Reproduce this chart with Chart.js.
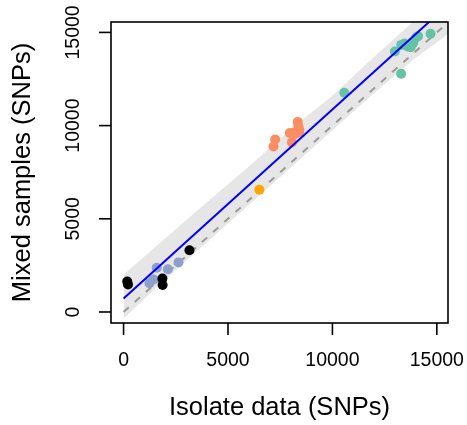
<!DOCTYPE html>
<html>
<head>
<meta charset="utf-8">
<script src="https://cdn.jsdelivr.net/npm/chart.js@4/dist/chart.umd.min.js"></script>
<style>
  html, body { margin: 0; padding: 0; background: #ffffff; }
  #wrap { width: 467px; height: 425px; }
</style>
</head>
<body>
<div id="wrap"><canvas id="c" width="467" height="425"></canvas></div>
<script>
// ---- data ----
const blackX = [175, 210, 1860, 1870, 3155];
const blackY = [1640, 1480, 1790, 1450, 3315];

const slateX = [1240, 1430, 1590, 2120, 2630];
const slateY = [1540, 1740, 2370, 2290, 2660];

const orangeX = [6503];
const orangeY = [6559];

const salmonX = [7180, 7260, 7960, 8060, 8130, 8230, 8340, 8370, 8420, 8400];
const salmonY = [8880, 9250, 9600, 9100, 9600, 9560, 10200, 9980, 9760, 9650];

const greenX = [10570, 12990, 13290, 13300, 13450, 13600, 13700, 13750, 13870, 14010, 14100, 14700];
const greenY = [11760, 13980, 12780, 14330, 14400, 14250, 14350, 14200, 14440, 14730, 14800, 14930];

// fitted regression line (blue) and identity line (grey dashed)
const fitX = [0, 15535];
const fitY = [720, 16480];
const idX = [0, 15535];
const idY = [0, 15535];

// grey uncertainty band around the fit
const bandX    = [0,    2000, 4000, 6000, 8000, 10000, 12000, 14000, 15535];
const bandHigh = [2000, 3950, 5900, 7800, 9800, 11600, 13700, 15700, 17400];
const bandLow  = [-350, 1750, 3750, 5750, 7750, 9750,  11750, 13650, 14900];

const xTicks = [0, 5000, 10000, 15000];
const yTicks = [0, 5000, 10000, 15000];
const xTitle = "Isolate data (SNPs)";
const yTitle = "Mixed samples (SNPs)";

// ---- helpers ----
const pts = (xs, ys) => xs.map((x, i) => ({ x: x, y: ys[i] }));
const FONT = "'Liberation Sans', Arial, Helvetica, sans-serif";

const pointSet = (xs, ys, color) => ({
  type: 'scatter',
  data: pts(xs, ys),
  backgroundColor: color,
  borderColor: color,
  borderWidth: 0,
  pointRadius: 5,
  pointHoverRadius: 5,
  order: 1
});

const frame = {
  id: 'frame',
  afterDraw(chart) {
    const ctx = chart.ctx;
    const a = chart.chartArea;
    const xs = chart.scales.x, ys = chart.scales.y;
    ctx.save();
    ctx.strokeStyle = '#000';
    ctx.lineWidth = 1.6;
    ctx.strokeRect(a.left, a.top, a.right - a.left, a.bottom - a.top);
    ctx.fillStyle = '#000';
    ctx.font = '19.5px ' + FONT;
    // x ticks
    ctx.textAlign = 'center';
    ctx.textBaseline = 'middle';
    xTicks.forEach(v => {
      const px = xs.getPixelForValue(v);
      ctx.beginPath();
      ctx.moveTo(px, a.bottom);
      ctx.lineTo(px, a.bottom + 12);
      ctx.stroke();
      ctx.fillText(String(v), px, 361);
    });
    // y ticks
    yTicks.forEach(v => {
      const py = ys.getPixelForValue(v);
      ctx.beginPath();
      ctx.moveTo(a.left - 12, py);
      ctx.lineTo(a.left, py);
      ctx.stroke();
      ctx.save();
      ctx.translate(74, py);
      ctx.rotate(-Math.PI / 2);
      ctx.fillText(String(v), 0, 0);
      ctx.restore();
    });
    // titles
    ctx.font = '25.5px ' + FONT;
    ctx.fillText(xTitle, (a.left + a.right) / 2, 408);
    ctx.save();
    ctx.translate(23, (a.top + a.bottom) / 2);
    ctx.rotate(-Math.PI / 2);
    ctx.fillText(yTitle, 0, 0);
    ctx.restore();
    ctx.restore();
  }
};

new Chart(document.getElementById('c'), {
  type: 'scatter',
  data: {
    datasets: [
      {
        type: 'line',
        data: pts(bandX, bandHigh),
        borderWidth: 0,
        borderColor: 'rgba(0,0,0,0)',
        backgroundColor: '#e6e6e6',
        pointRadius: 0,
        fill: '+1',
        tension: 0,
        order: 4
      },
      {
        type: 'line',
        data: pts(bandX, bandLow),
        borderWidth: 0,
        borderColor: 'rgba(0,0,0,0)',
        backgroundColor: '#e6e6e6',
        pointRadius: 0,
        fill: false,
        tension: 0,
        order: 5
      },
      {
        type: 'line',
        data: pts(idX, idY),
        borderColor: '#9a9a9a',
        borderWidth: 2,
        borderDash: [7, 8],
        pointRadius: 0,
        fill: false,
        order: 3
      },
      pointSet(blackX, blackY, '#000000'),
      pointSet(slateX, slateY, '#8DA0CB'),
      pointSet(orangeX, orangeY, '#FFA500'),
      pointSet(salmonX, salmonY, '#FC8D62'),
      pointSet(greenX, greenY, '#66C2A5'),
      {
        type: 'line',
        data: pts(fitX, fitY),
        borderColor: '#0000ff',
        borderWidth: 2,
        pointRadius: 0,
        fill: false,
        order: 0
      }
    ]
  },
  options: {
    responsive: false,
    animation: false,
    events: [],
    layout: { padding: { left: 111, right: 19, top: 22, bottom: 102 } },
    plugins: { legend: { display: false }, tooltip: { enabled: false } },
    scales: {
      x: { type: 'linear', min: -602, max: 15535, display: false },
      y: { type: 'linear', min: -591, max: 15559, display: false }
    }
  },
  plugins: [frame]
});
</script>
</body>
</html>
